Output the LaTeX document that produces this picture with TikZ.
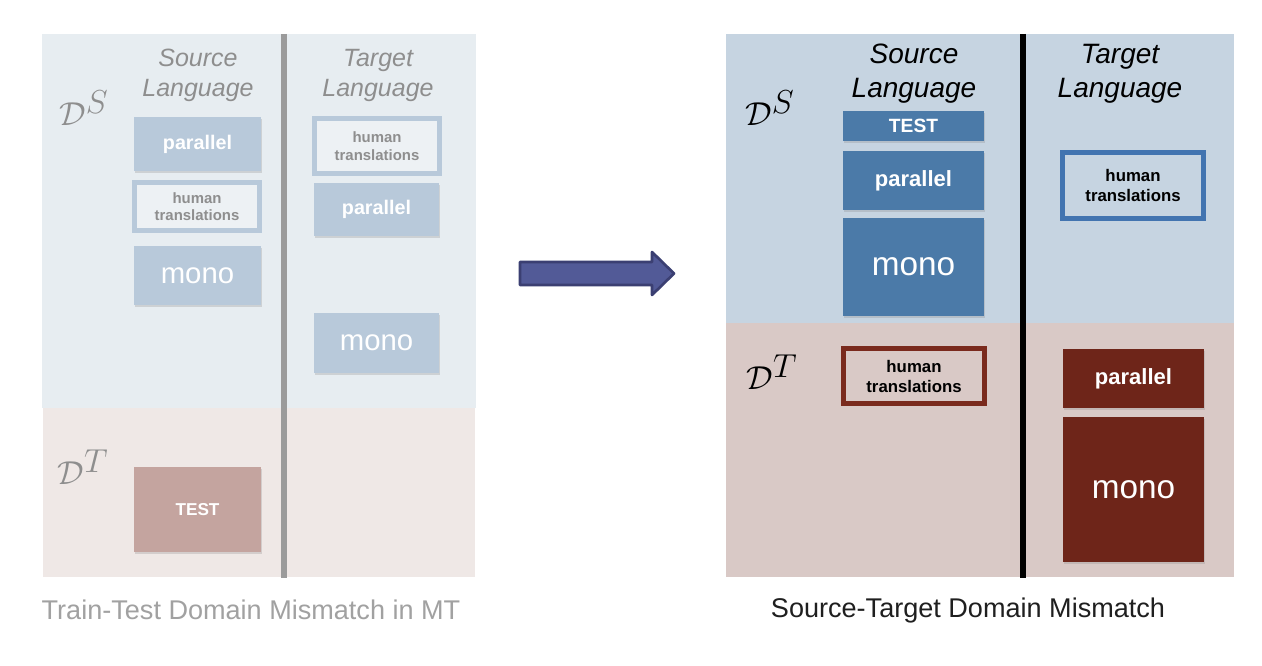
\documentclass[tikz,border=0pt]{standalone}
\usepackage{fontspec}
\setmainfont{Liberation Sans}
\usetikzlibrary{shadows}
\newcommand{\fsz}[2]{\fontsize{#1}{#2}\selectfont}
\definecolor{lbluebg}{HTML}{E7EDF1}
\definecolor{lpinkbg}{HTML}{EFE8E6}
\definecolor{lboxc}{HTML}{B8C9DA}
\definecolor{linner}{HTML}{EDF1F4}
\definecolor{ltext}{HTML}{8E8E8E}
\definecolor{ltest}{HTML}{C4A49F}
\definecolor{lline}{HTML}{9B9B9B}
\definecolor{rbluebg}{HTML}{C6D4E1}
\definecolor{rpinkbg}{HTML}{D9C9C6}
\definecolor{rboxc}{HTML}{4B7AA8}
\definecolor{rborder}{HTML}{4274B0}
\definecolor{redbox}{HTML}{6E2519}
\definecolor{redborder}{HTML}{7A2A1D}
\definecolor{arrowfill}{HTML}{525A97}
\definecolor{arrowdraw}{HTML}{3B3F72}
\tikzset{
  every node/.style={inner sep=0pt, outer sep=0pt},
  sz/.style 2 args={minimum width=#1*0.75pt, minimum height=#2*0.75pt},
  shad/.style={drop shadow={shadow xshift=0.6pt, shadow yshift=-1.2pt, opacity=0.25}},
  lbox/.style={fill=lboxc, text=white, shad},
  lhum/.style={draw=lboxc, line width=3.75pt, fill=linner, text=ltext, align=center, font=\bfseries\fsz{11.2}{13}},
  rbox/.style={fill=rboxc, text=white, shad},
  rhum/.style={draw=rborder, line width=3.75pt, fill=rbluebg, text=black, align=center, font=\bfseries\fsz{12.6}{15}},
  redb/.style={fill=redbox, text=white, shad},
  redhum/.style={draw=redborder, line width=3.75pt, fill=rpinkbg, text=black, align=center, font=\bfseries\fsz{12.6}{15}},
  lhead/.style={align=center, text=ltext, font=\itshape\fsz{18.75}{22.5}},
  rhead/.style={align=center, text=black, font=\itshape\fsz{21}{25.5}},
}
\begin{document}
\begin{tikzpicture}[x=0.75pt, y=-0.75pt]
\useasboundingbox (0,0) rectangle (1262,666);
\fill[white] (0,0) rectangle (1262,666);
% cut-off title glyph at the top
\begin{scope}
\clip (0,0) rectangle (1262,3.5);
\draw[line width=3.5pt, color=black!75] (274,-8) arc[start angle=180, end angle=360, x radius=12, y radius=9];
\end{scope}
% ---------------- left panel ----------------
\fill[lbluebg] (42,34) rectangle (476,408);
\fill[lpinkbg] (43,408) rectangle (475,577);
\coordinate (lltop) at (284,34);
\coordinate (llbot) at (284,578);
\draw[lline, line width=4.5pt] (lltop) -- (llbot);
\node[lhead] (lsrc) at (198,75) {Source\\Language};
\node[lhead] (ltgt) at (378,75) {Target\\Language};
\node[text=ltext, font=\fsz{36}{42}] (lds) at (84,108) {$\mathcal{D}^{S}$};
\node[text=ltext, font=\fsz{36}{42}] (ldt) at (83,467) {$\mathcal{D}^{T}$};
\node[lbox, sz={127}{54}, font=\bfseries\fsz{14.8}{17}] (lpar) at (197.5,144) {parallel};
\node[lhum, sz={125}{48}] (lhum) at (197,206.5) {human\\translations};
\node[lbox, sz={127}{59}, font=\fsz{22}{26}] (lmono) at (197.5,275.5) {mono};
\node[lhum, sz={125}{55}] (lthum) at (377,146) {human\\translations};
\node[lbox, sz={125}{53}, font=\bfseries\fsz{14.8}{17}] (ltpar) at (376.5,209.5) {parallel};
\node[lbox, sz={125}{60}, font=\fsz{22}{26}] (ltmono) at (376.5,343) {mono};
\node[fill=ltest, text=white, shad, sz={127}{85}, font=\bfseries\fsz{12.9}{15}] (ltest) at (197.5,509.5) {TEST};
\node[text=black!37, font=\fsz{20.3}{24}] (lcap) at (251,610) {Train-Test Domain Mismatch in MT};
% ---------------- arrow ----------------
\draw[fill=arrowfill, draw=arrowdraw, line width=2pt, line join=round]
  (520,262) -- (652,262) -- (652,252) -- (674,273.5) -- (652,295) -- (652,285) -- (520,285) -- cycle;
% ---------------- right panel ----------------
\fill[rbluebg] (726,34) rectangle (1234,323);
\fill[rpinkbg] (726,323) rectangle (1234,577);
\coordinate (rltop) at (1023,34);
\coordinate (rlbot) at (1023,578);
\draw[black, line width=5pt] (rltop) -- (rlbot);
\node[rhead] (rsrc) at (914,74) {Source\\Language};
\node[rhead] (rtgt) at (1120,74) {Target\\Language};
\node[text=black, font=\fsz{43}{50}] (rds) at (770,108) {$\mathcal{D}^{S}$};
\node[text=black, font=\fsz{43}{50}] (rdt) at (772,372) {$\mathcal{D}^{T}$};
\node[rbox, sz={141}{30}, font=\bfseries\fsz{14.4}{17}] (rtest) at (913.5,126) {TEST};
\node[rbox, sz={141}{59}, font=\bfseries\fsz{16.5}{19}] (rpar) at (913.5,180.5) {parallel};
\node[rbox, sz={141}{98}, font=\fsz{25}{30}] (rmono) at (913.5,267) {mono};
\node[rhum, sz={141}{66}] (rhum) at (1133,185.5) {human\\translations};
\node[redhum, sz={141}{55}] (redhum) at (914,376) {human\\translations};
\node[redb, sz={141}{59}, font=\bfseries\fsz{16.5}{19}] (redpar) at (1133.5,378.5) {parallel};
\node[redb, sz={141}{145}, font=\fsz{25}{30}] (redmono) at (1133.5,489.5) {mono};
\node[text=black!88, font=\fsz{20.3}{24}] (rcap) at (968,610) {Source-Target Domain Mismatch};
\end{tikzpicture}
\end{document}
